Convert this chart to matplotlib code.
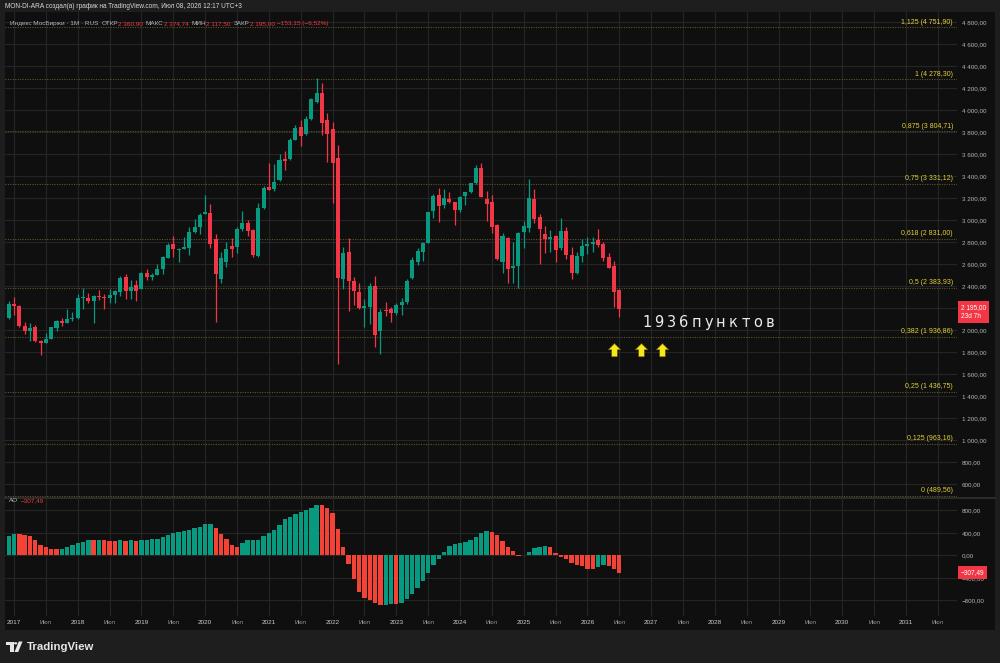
import numpy as np
import pandas as pd
import matplotlib
matplotlib.use('Agg')
import matplotlib.pyplot as plt
from matplotlib.path import Path
from matplotlib.patches import Rectangle, Polygon, Circle
from matplotlib.lines import Line2D

plt.rcParams['font.family'] = ['Liberation Sans', 'DejaVu Sans']

# monthly candles of the index, Dec 2016 .. Jul 2026
months = pd.date_range('2016-12-01', periods=116, freq='MS')
opens = [2106, 2233, 2221, 2036, 1994, 2024, 1900, 1885, 1921, 2021,
         2079, 2067, 2100, 2106, 2294, 2288, 2267, 2309, 2303, 2291,
         2315, 2342, 2482, 2351, 2409, 2370, 2521, 2485, 2497, 2554,
         2657, 2779, 2727, 2739, 2742, 2888, 2936, 3057, 3061, 2830,
         2461, 2621, 2767, 2758, 2915, 2976, 2909, 2676, 3109, 3303,
         3282, 3361, 3558, 3551, 3730, 3842, 3785, 3915, 4070, 4155,
         3906, 3827, 3561, 2461, 2712, 2445, 2348, 2197, 2212, 2400,
         1991, 2182, 2191, 2152, 2227, 2257, 2470, 2621, 2712, 2794,
         3082, 3227, 3136, 3191, 3161, 3091, 3218, 3255, 3333, 3470,
         3191, 3161, 2955, 2621, 2833, 2561, 2579, 2888, 2930, 3191,
         3030, 2873, 2827, 2855, 2743, 2900, 2682, 2518, 2673, 2767,
         2779, 2821, 2779, 2661, 2579, 2360.90]
highs = [2261, 2297, 2227, 2076, 2061, 2045, 1909, 1970, 2030, 2091,
         2106, 2194, 2164, 2327, 2379, 2333, 2321, 2363, 2327, 2373,
         2363, 2488, 2506, 2454, 2454, 2527, 2552, 2521, 2600, 2673,
         2791, 2855, 2742, 2845, 2933, 3009, 3061, 3227, 3142, 2873,
         2712, 2800, 2839, 2940, 3085, 3000, 2918, 3152, 3312, 3521,
         3509, 3600, 3627, 3748, 3867, 3909, 3945, 4112, 4291, 4242,
         3976, 3894, 3682, 2758, 2833, 2485, 2424, 2279, 2424, 2494,
         2188, 2255, 2212, 2242, 2288, 2460, 2661, 2743, 2800, 3076,
         3236, 3288, 3279, 3258, 3167, 3218, 3258, 3339, 3500, 3521,
         3267, 3227, 2964, 2885, 2842, 2803, 2894, 2994, 3370, 3279,
         3052, 2946, 2909, 2864, 3015, 2933, 2758, 2712, 2824, 2842,
         2842, 2915, 2800, 2697, 2630, 2374.74]
lows = [2097, 2136, 2030, 1964, 1903, 1894, 1776, 1879, 1915, 1994,
        2036, 2067, 2085, 2103, 2188, 2242, 2067, 2273, 2194, 2242,
        2242, 2309, 2279, 2285, 2267, 2370, 2454, 2454, 2497, 2512,
        2654, 2667, 2618, 2733, 2685, 2879, 2876, 3054, 2748, 2076,
        2431, 2570, 2667, 2703, 2903, 2858, 2667, 2661, 3103, 3273,
        3267, 3354, 3454, 3545, 3727, 3676, 3770, 3909, 4061, 3773,
        3530, 3158, 1688, 2370, 2173, 2227, 2188, 2024, 2055, 1842,
        1779, 2130, 2076, 2136, 2136, 2236, 2460, 2590, 2627, 2788,
        3015, 2985, 3106, 3152, 2955, 3076, 3136, 3242, 3327, 3206,
        2994, 2879, 2636, 2515, 2424, 2424, 2379, 2743, 2894, 2976,
        2597, 2697, 2712, 2621, 2727, 2642, 2461, 2509, 2621, 2691,
        2712, 2758, 2630, 2561, 2206, 2117.50]
closes = [2233, 2215, 2033, 1994, 2018, 1900, 1879, 1921, 2024, 2079,
          2061, 2100, 2112, 2291, 2300, 2267, 2312, 2300, 2291, 2321,
          2351, 2476, 2351, 2394, 2354, 2521, 2482, 2500, 2558, 2667,
          2770, 2736, 2736, 2751, 2894, 2933, 3045, 3073, 2785, 2506,
          2651, 2733, 2737, 2915, 2970, 2900, 2682, 3112, 3291, 3273,
          3348, 3545, 3536, 3724, 3836, 3764, 3915, 4103, 4151, 3885,
          3782, 3521, 2470, 2703, 2445, 2358, 2203, 2215, 2400, 1955,
          2166, 2173, 2152, 2227, 2257, 2448, 2636, 2718, 2794, 3070,
          3221, 3130, 3203, 3161, 3091, 3212, 3255, 3333, 3470, 3212,
          3145, 2939, 2645, 2855, 2555, 2579, 2885, 2946, 3200, 3009,
          2915, 2827, 2842, 2727, 2900, 2682, 2518, 2673, 2767, 2779,
          2800, 2773, 2655, 2564, 2349, 2195.00]

# Awesome Oscillator histogram
ao = [349, 379, 373, 367, 337, 278, 189, 142, 112, 105,
      112, 148, 178, 219, 243, 272, 266, 278, 272, 260,
      249, 272, 260, 266, 260, 272, 275, 284, 296, 320,
      355, 391, 414, 432, 456, 480, 497, 556, 562, 480,
      379, 296, 189, 148, 219, 266, 272, 278, 337, 391,
      444, 545, 639, 687, 728, 764, 799, 847, 894, 888,
      847, 746, 474, 148, -160, -420, -657, -758, -799, -847,
      -888, -876, -864, -868, -847, -770, -681, -580, -462, -320,
      -178, -59, 59, 166, 201, 225, 243, 278, 331, 403,
      426, 414, 355, 255, 148, 71, -18, 12, 59, 130,
      148, 172, 142, 41, -36, -65, -130, -178, -189, -237,
      -243, -201, -178, -189, -237, -307.49]

# Fibonacci levels
fib_levels = ['1,125', '1', '0,875', '0,75', '0,618', '0,5', '0,382', '0,25', '0,125', '0']
fib_prices = [4751.90, 4278.30, 3804.71, 3331.12, 2831.00, 2383.93, 1936.86, 1436.75, 963.16, 489.56]

years = list(range(2017, 2032))
arrow_months = ['2026-06', '2026-11', '2027-03']  # user drawn arrows
arrow_price = 1816
note_text = '1936пунктов'

GREEN = '#089981'
RED = '#f23645'
AO_RED = '#f44336'
GRID = '#252525'
BG = '#0f0f0f'
TXT = '#b2b5be'

W, H = 1000, 663


def px_rect(x0, y0, x1, y1):
    return [x0 / W, 1 - y1 / H, (x1 - x0) / W, (y1 - y0) / H]


def fx(x):
    return x / W


def fy(y):
    return 1 - y / H


def fmt_num(v):
    s = '{:,.2f}'.format(abs(v)).replace(',', ' ').replace('.', ',')
    return ('\u2212' if v < 0 else '') + s


def month_idx(year, month):
    return (year - 2016) * 12 + (month - 12)


fig = plt.figure(figsize=(W / 100, H / 100), dpi=100)
fig.patch.set_facecolor('#1e1e1e')
fig.patches.append(Rectangle((fx(5), fy(630)), fx(990), 618 / H,
                             transform=fig.transFigure, facecolor=BG,
                             edgecolor='none', zorder=-10))

x = np.arange(len(months))
opens = np.array(opens)
closes = np.array(closes)
up = closes >= opens
colors = np.where(up, GREEN, RED)

tick_pos = []
tick_lab = []
for yr in years:
    tick_pos += [month_idx(yr, 1), month_idx(yr, 7)]
    tick_lab += [str(yr), 'Июл']

# ---- main panel
ax = fig.add_axes(px_rect(5, 12, 957, 497))
ax.set_facecolor(BG)
ax.set_xlim(-0.7, 178.6)
ax.set_ylim(482, 4891)
ax.vlines(x, lows, highs, colors=colors, lw=0.9, zorder=3)
body_lo = np.minimum(opens, closes)
body_h = np.maximum(np.abs(closes - opens), 8)
ax.bar(x, body_h, bottom=body_lo, width=0.76, color=colors, lw=0, zorder=4)

ax.set_xticks(tick_pos)
ax.set_yticks(range(600, 4801, 200))
ax.yaxis.tick_right()
# the 2 200 label sits under the last-price marker
ax.yaxis.set_major_formatter(plt.FuncFormatter(
    lambda v, p: '' if abs(v - 2200) < 1 else fmt_num(v)))
ax.tick_params(axis='y', length=0, pad=3.6, labelsize=4.5, labelcolor=TXT)
ax.tick_params(axis='x', length=0, labelbottom=False)
ax.grid(color=GRID, lw=0.8, zorder=0)
for s in ax.spines.values():
    s.set_visible(False)

for lev, pr in zip(fib_levels, fib_prices):
    ax.axhline(pr, color='#5e5628', ls=(0, (1, 1.2)), lw=0.8, zorder=2)
    ax.annotate('{} ({})'.format(lev, fmt_num(pr)), xy=(0.9958, pr),
                xycoords=('axes fraction', 'data'), xytext=(0, 3.8),
                textcoords='offset points', ha='right', va='center',
                fontsize=5, color='#e0cf3a', zorder=5)

# last price label
ax.annotate('{}\n23d 7h'.format(fmt_num(closes[-1])), xy=(1, closes[-1]),
            xycoords=('axes fraction', 'data'), xytext=(2.8, -2.4),
            textcoords='offset points', ha='left', va='center',
            fontsize=4.7, color='white', linespacing=1.3, zorder=10,
            bbox=dict(boxstyle='square,pad=0.5', fc=RED, ec='none'),
            annotation_clip=False)

# user annotations
arrow = Path([(0, 1), (0.9, 0.1), (0.4, 0.1), (0.4, -0.9), (-0.4, -0.9),
              (-0.4, 0.1), (-0.9, 0.1), (0, 1)], closed=True)
for am in arrow_months:
    d = pd.Timestamp(am)
    ax.plot(month_idx(d.year, d.month), arrow_price, marker=arrow,
            markersize=10, color='#f7e81c', markeredgecolor='#6b6000',
            markeredgewidth=0.4, ls='none', zorder=6)
note_x0 = 120.2
for i, ch in enumerate(note_text):
    ax.text(note_x0 + i * 2.32, 2064, ch, ha='center', va='center',
            fontsize=10.5, color='#ececec', family='DejaVu Sans', zorder=6)

# ---- AO panel
ax2 = fig.add_axes(px_rect(5, 498, 957, 612))
ax2.set_facecolor(BG)
ax2.set_xlim(-0.7, 178.6)
ax2.set_ylim(-1007, 1018)
ao = np.array(ao)
ao_col = [GREEN] + [GREEN if ao[i] > ao[i - 1] else AO_RED for i in range(1, len(ao))]
ax2.bar(x, ao, width=0.82, color=ao_col, lw=0, zorder=3)
ax2.set_yticks([-800, -400, 0, 400, 800])
ax2.yaxis.tick_right()
ax2.yaxis.set_major_formatter(plt.FuncFormatter(lambda v, p: fmt_num(v)))
ax2.tick_params(axis='y', length=0, pad=3.6, labelsize=4.5, labelcolor=TXT)
ax2.set_xticks(tick_pos)
ax2.set_xticklabels(tick_lab)
ax2.tick_params(axis='x', length=2.5, width=0.6, color='#3a3a3a', pad=3,
                labelsize=4.6, labelcolor='#c8cad0')
for lab in ax2.get_xticklabels():
    if lab.get_text() == 'Июл':
        lab.set_color('#9598a1')
        lab.set_fontsize(4.2)
ax2.grid(color=GRID, lw=0.8, zorder=0)
for s in ax2.spines.values():
    s.set_visible(False)
ax2.annotate(fmt_num(ao[-1]), xy=(1, ao[-1]), xycoords=('axes fraction', 'data'),
             xytext=(2.8, 0), textcoords='offset points', ha='left', va='center',
             fontsize=4.7, color='white', zorder=10,
             bbox=dict(boxstyle='square,pad=0.45', fc=RED, ec='none'),
             annotation_clip=False)

# panel separator
fig.add_artist(Line2D([fx(5), fx(995)], [fy(497.5), fy(497.5)],
                      transform=fig.transFigure, color='#2c2c2c', lw=1.4))

# ---- texts
fig.text(fx(5), fy(6.5), 'MON-DI-ARA создал(а) график на TradingView.com, Июл 08, 2026 12:17 UTC+3',
         fontsize=4.7, color='#d8d8d8', va='center')

renderer = fig.canvas.get_renderer()


def text_row(x0, y0, parts, size=4.6):
    cur = x0
    for t, c, gap in parts:
        tx = fig.text(fx(cur), fy(y0), t, fontsize=size, color=c, va='baseline')
        cur += tx.get_window_extent(renderer).width + gap


text_row(10, 25, [('Индекс МосБиржи · 1M · RUS', TXT, 3), ('ОТКР', TXT, 0.5),
                  ('2 360,90', RED, 2.5), ('МАКС', TXT, 0.5), ('2 374,74', RED, 2.5),
                  ('МИН', TXT, 0.5), ('2 117,50', RED, 2.5), ('ЗАКР', TXT, 0.5),
                  ('2 195,00', RED, 2.5), ('\u2212153,15 (\u22126,52%)', RED, 0)])
text_row(9, 502.5, [('AO', TXT, 3), (fmt_num(ao[-1]), RED, 0)])

# TradingView logo
LOGO = '#e6e6e6'
fig.patches.append(Polygon([(fx(6), fy(641.5)), (fx(13.5), fy(641.5)), (fx(13.5), fy(652)),
                            (fx(10), fy(652)), (fx(10), fy(645)), (fx(6), fy(645))],
                           closed=True, transform=fig.transFigure, fc=LOGO, ec='none'))
fig.patches.append(Circle((fx(15.6), fy(643.3)), 1.7 / W, transform=fig.transFigure,
                          fc=LOGO, ec='none'))
fig.patches.append(Polygon([(fx(14.5), fy(652)), (fx(18.8), fy(641.5)), (fx(22.5), fy(641.5)),
                            (fx(18.2), fy(652))],
                           closed=True, transform=fig.transFigure, fc=LOGO, ec='none'))
fig.text(fx(26.5), fy(647), 'TradingView', fontsize=8.2, fontweight='bold',
         color=LOGO, va='center')

fig.savefig('out.png', dpi=100, facecolor=fig.get_facecolor())
